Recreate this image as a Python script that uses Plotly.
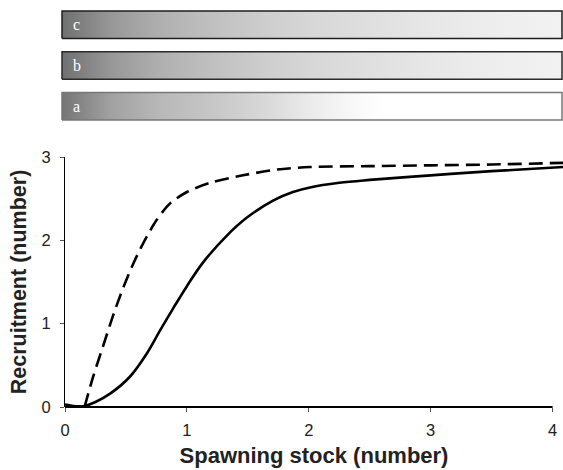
import plotly.graph_objects as go

# ---- data ----
solid_x = [0, 0.08, 0.15, 0.25, 0.37, 0.53, 0.67, 0.78, 0.89, 1.0, 1.13, 1.33, 1.49, 1.71, 1.87, 2.01, 2.25, 2.5, 3.0, 3.5, 4.09]
solid_y = [0.03, 0.01, 0.01, 0.06, 0.16, 0.36, 0.64, 0.92, 1.19, 1.45, 1.73, 2.06, 2.27, 2.48, 2.58, 2.635, 2.69, 2.725, 2.78, 2.83, 2.88]

dashed_x = [0.16, 0.23, 0.31, 0.40, 0.48, 0.56, 0.64, 0.75, 0.86, 1.0, 1.19, 1.46, 1.74, 2.01, 2.5, 3.0, 3.5, 4.09]
dashed_y = [0.0, 0.36, 0.72, 1.12, 1.44, 1.72, 1.96, 2.24, 2.44, 2.58, 2.69, 2.78, 2.85, 2.88, 2.89, 2.90, 2.91, 2.93]

x_ticks = [0, 1, 2, 3, 4]
y_ticks = [0, 1, 2, 3]

bar_labels = ["a", "b", "c"]
bar_lengths = [1, 1, 1]
bar_edge_colors = ["#777777", "#2a2a2a", "#1e1e1e"]
grad_pos_bc = [0, 0.1, 0.2, 0.28, 0.4, 0.5, 0.6, 0.72, 0.85, 1.0]
grad_lvl_bc = [112, 152, 176, 189, 205, 215, 222, 230, 237, 242]
grad_pos_a = [0, 0.1, 0.2, 0.28, 0.4, 0.48, 0.56, 0.64, 1.0]
grad_lvl_a = [117, 162, 185, 195, 215, 232, 245, 255, 255]
bar_grads = [(grad_pos_a, grad_lvl_a), (grad_pos_bc, grad_lvl_bc), (grad_pos_bc, grad_lvl_bc)]

FONT = "Liberation Sans, Arial, sans-serif"

fig = go.Figure()

# gradient bars (top panel)
half_h = 0.3375
for i, (lab, L, ec, (gp, gl)) in enumerate(zip(bar_labels, bar_lengths, bar_edge_colors, bar_grads)):
    cs = [[p, f"rgb({v},{v},{v})"] for p, v in zip(gp, gl)]
    fig.add_trace(go.Scatter(
        x=[0, L, L, 0, 0], y=[i - half_h, i - half_h, i + half_h, i + half_h, i - half_h],
        mode="lines", fill="toself",
        fillgradient=dict(type="horizontal", colorscale=cs),
        line=dict(color=ec, width=1.5),
        xaxis="x2", yaxis="y2", showlegend=False, hoverinfo="skip",
    ))
    fig.add_annotation(x=0.018, y=i, xref="x2", yref="y2", text=lab, showarrow=False,
                       xanchor="left", yanchor="middle",
                       font=dict(family="Liberation Serif, serif", size=16, color="white"))

# curves
fig.add_trace(go.Scatter(x=dashed_x, y=dashed_y, mode="lines",
                         line=dict(color="black", width=2.6, dash="14px,7px", shape="spline", smoothing=0.8),
                         showlegend=False, cliponaxis=False))
fig.add_trace(go.Scatter(x=solid_x, y=solid_y, mode="lines",
                         line=dict(color="black", width=2.6, shape="spline", smoothing=1.0),
                         showlegend=False, cliponaxis=False))

# x axis line from 0 to 4
xmax = 498 / 121.9
fig.add_shape(type="line", xref="x domain", yref="y domain", x0=0, x1=4 / xmax, y0=0, y1=0,
              line=dict(color="black", width=2))

fig.update_layout(
    width=563, height=470,
    margin=dict(l=60, r=0, t=0, b=63),
    paper_bgcolor="white", plot_bgcolor="white",
    font=dict(family=FONT, color="#222"),
    xaxis=dict(domain=[5 / 503, 1], range=[0, xmax], tickvals=x_ticks, showgrid=False, zeroline=False,
               showline=False, ticks="outside", ticklen=4, tickwidth=1, tickcolor="#555",
               tickfont=dict(size=16.5, color="#222"), ticklabelstandoff=4, automargin=False,
               title=dict(text="<b>Spawning stock (number)</b>", font=dict(size=22, color="#222"), standoff=9),
               anchor="y"),
    yaxis=dict(domain=[0, 250 / 407], range=[0, 3], tickvals=y_ticks, showgrid=False, zeroline=False,
               showline=True, linecolor="black", linewidth=1, ticks="outside", ticklen=4, tickcolor="#555",
               tickfont=dict(size=16.5, color="#222"), ticklabelstandoff=6, automargin=False,
               title=dict(text="<b>Recruitment (number)</b>", font=dict(size=21.5, color="#222"), standoff=8),
               anchor="x"),
    xaxis2=dict(domain=[0, 1], range=[-0.004, 1.002], visible=False, anchor="y2", automargin=False),
    yaxis2=dict(domain=[(407 - 126.6) / 407, (407 - 4.4) / 407], range=[-0.5, 2.5], visible=False,
                anchor="x2", automargin=False),
)

fig.write_html("out.html")
